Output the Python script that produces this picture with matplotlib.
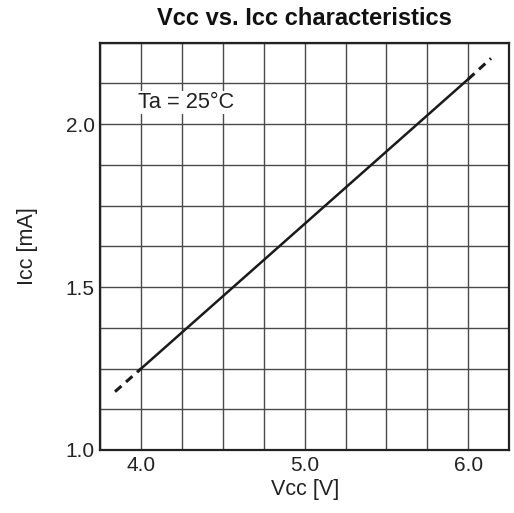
import matplotlib
matplotlib.use("Agg")
import matplotlib.pyplot as plt
import numpy as np

plt.rcParams['font.family'] = ['Liberation Sans', 'DejaVu Sans']

# data
vcc_solid = [4.0, 6.0]
icc_solid = [1.25, 2.138]
vcc_dash_low = [3.84, 4.0]
icc_dash_low = [1.179, 1.25]
vcc_dash_high = [6.0, 6.14]
icc_dash_high = [2.138, 2.202]
x_ticks = [4.0, 5.0, 6.0]
y_ticks = [1.0, 1.5, 2.0]

fig = plt.figure(figsize=(5.14, 5.13), dpi=100)
W, H = 514, 513
ax = fig.add_axes([100.3 / W, 1 - 450 / H, (509 - 100.3) / W, (450 - 42.7) / H])

ax.set_xlim(3.75, 6.25)
ax.set_ylim(1.0, 2.25)
ax.set_xticks(np.arange(3.75, 6.2501, 0.25), minor=True)
ax.set_yticks(np.arange(1.0, 2.2501, 0.125), minor=True)
ax.set_xticks(x_ticks)
ax.set_yticks(y_ticks)
ax.set_xticklabels([f"{v:.1f}" for v in x_ticks])
ax.set_yticklabels([f"{v:.1f}" for v in y_ticks])
ax.grid(True, which='both', color='#4a4a4a', linewidth=1.0)
ax.tick_params(which='both', length=0, labelsize=15, colors='#222222')
ax.tick_params(axis='x', pad=4)
ax.tick_params(axis='y', pad=4)
for s in ax.spines.values():
    s.set_linewidth(1.6)
    s.set_color('#222222')

ax.plot(vcc_solid, icc_solid, color='#1a1a1a', linewidth=1.8, zorder=3)
ax.plot(vcc_dash_low, icc_dash_low, color='#1a1a1a', linewidth=2.2, linestyle=(0, (2.8, 2.0)), zorder=3)
ax.plot(vcc_dash_high, icc_dash_high, color='#1a1a1a', linewidth=2.2, linestyle=(0, (2.8, 2.0)), zorder=3)

ax.text(3.98, 2.066, "Ta = 25°C", fontsize=15.7, ha='left', va='center', color='#222222',
        bbox=dict(facecolor='white', edgecolor='none', pad=1.0), zorder=4)

ax.set_xlabel("Vcc [V]", fontsize=15.5, color='#222222', labelpad=3)
ax.set_ylabel("Icc [mA]", fontsize=15.5, color='#222222', labelpad=20)
ax.set_title("Vcc vs. Icc characteristics", fontsize=17, fontweight='bold', pad=12.5, color='#111111')

fig.savefig("out.png", dpi=100)
